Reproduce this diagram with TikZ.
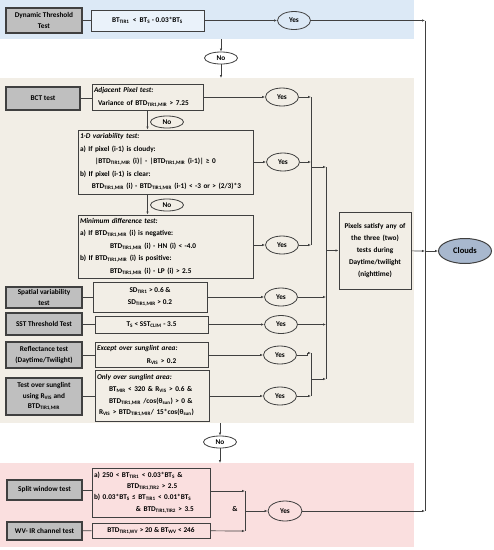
\documentclass[tikz,border=0pt]{standalone}
\usepackage{fontspec}
\setmainfont{Carlito}
\usetikzlibrary{positioning, arrows.meta, shapes.geometric}
\definecolor{bandblue}{RGB}{220,233,246}
\definecolor{bandbeige}{RGB}{242,238,230}
\definecolor{bandpink}{RGB}{250,223,223}
\definecolor{testgray}{RGB}{191,191,191}
\definecolor{linegray}{RGB}{64,64,64}
\definecolor{cloudblue}{RGB}{168,184,206}
\newcommand{\tsub}[1]{\textsubscript{#1}}
\newcommand{\btdmir}{BTD\tsub{TIR1,MIR}}

\begin{document}
\begin{tikzpicture}[
    x=1pt, y=-1pt,
    font=\fontsize{7.3}{10.5}\selectfont\bfseries,
    test/.style={
        draw=linegray,
        line width=1.3pt,
        fill=testgray,
        align=center,
        inner sep=1pt,
        minimum width=76pt,
    },
    cond/.style={draw=linegray, line width=1pt, inner sep=2pt, align=center},
    condl/.style={cond, align=left, font=\fontsize{7.3}{12.6}\selectfont\bfseries},
    yes/.style={ellipse, draw=linegray, line width=0.8pt, inner sep=0pt,
        minimum width=33pt, minimum height=18pt},
    no/.style={yes, minimum width=33pt, minimum height=12pt, fill=white},
    flow/.style={-{Latex[length=3pt,width=2.4pt]}, draw=linegray, line width=0.7pt},
    link/.style={draw=linegray, line width=0.7pt}
]
\useasboundingbox (0,0) rectangle (494,550);
\fill[bandblue] (0,0) rectangle (414,39);
\fill[bandbeige] (0,78) rectangle (414,423);
\fill[bandpink] (0,463) rectangle (414,547);

\node[test, minimum height=25pt] (Dyn) at (44,20.5) {Dynamic Threshold\\Test};
\node[cond, fill=bandblue!60!white, minimum width=113pt, minimum height=21pt] (BT) at (147.5,20.5) {%
  BT\tsub{TIR1}~~<~~BT\tsub{S} - 0.03*BT\tsub{S}};
\node[yes] (Y0) at (294,20.5) {Yes};
\node[no] (N1) at (221,58) {No};

\node[test, minimum width=74pt, minimum height=23pt] (BCT) at (43,98.5) {BCT test};
\node[condl, text width=107pt, minimum height=26pt] (Adj) at (147.5,97) {%
  \textit{Adjacent Pixel test:}\\
  \hspace*{4pt}Variance of \btdmir{} > 7.25};
\node[yes] (Y1) at (282,97) {Yes};
\node[no, fill=bandbeige] (N2) at (167,122) {No};
\node[condl, text width=171pt, minimum height=64pt] (OneD) at (165.5,162) {%
  \textit{1-D variability test:}\\
  a) If pixel (i-1) is cloudy:\\
  \hspace*{15pt}|\btdmir{} (i)| - |\btdmir{} (i-1)| ≥ 0\\
  b) If pixel (i-1) is clear:\\
  \hspace*{12pt}\btdmir{} (i) - \btdmir{} (i-1) < -3 or > (2/3)*3};
\node[yes] (Y2) at (283,162) {Yes};
\node[no, fill=bandbeige] (N3) at (167,205) {No};
\node[condl, text width=171pt, minimum height=63pt] (MinD) at (165.5,246.5) {%
  \textit{Minimum difference test:}\\
  a) If \btdmir{} (i) is negative:\\
  \hspace*{30pt}\btdmir{} (i) - HN (i) < -4.0\\
  b) If \btdmir{} (i) is positive:\\
  \hspace*{30pt}\btdmir{} (i) - LP (i) > 2.5};
\node[yes] (Y3) at (282,245) {Yes};

\node[test, minimum height=21pt] (Spat) at (44,297.5) {Spatial variability\\test};
\node[cond, minimum width=114pt, minimum height=30pt, font=\fontsize{7.3}{12}\selectfont\bfseries] (SpC) at (150,297) {%
  SD\tsub{TIR1} > 0.6 \&\\SD\tsub{TIR1,MIR} > 0.2};
\node[yes] (Y4) at (281,297) {Yes};
\node[test, minimum height=22pt] (SST) at (44,324) {SST Threshold Test};
\node[cond, minimum width=113pt, minimum height=17pt] (SSTC) at (151.5,324.5) {%
  T\tsub{S} < SST\tsub{CLIM} - 3.5};
\node[yes] (Y5) at (281,324.5) {Yes};
\node[test, minimum height=26pt] (Refl) at (44,355) {Reflectance test\\(Daytime/Twilight)};
\node[condl, text width=109pt, minimum height=25pt] (ReflC) at (151.5,355) {%
  \textit{Except over sunglint area:}\\
  \hspace*{50pt}R\tsub{VIS} > 0.2};
\node[yes] (Y6) at (280,355) {Yes};
\node[test, minimum height=37pt] (Sun) at (44,396.5) {Test over sunglint\\using R\tsub{VIS} and\\\btdmir};
\node[condl, text width=110pt, minimum height=51pt, font=\fontsize{7.3}{11.6}\selectfont\bfseries] (SunC) at (152,395.5) {%
  \textit{Only over sunglint area:}\\
  \hspace*{12pt}BT\tsub{MIR} < 320 \& R\tsub{VIS} > 0.6 \&\\
  \hspace*{12pt}\btdmir{} /cos(θ\tsub{sun}) > 0 \&\\
  \hspace*{2pt}R\tsub{VIS} > \btdmir/ 15*cos(θ\tsub{sun})};
\node[yes] (Y7) at (280,396) {Yes};
\node[no] (N4) at (220,442) {No};

\node[test, minimum width=75pt, minimum height=20pt] (Split) at (44.5,490) {Split window test};
\node[condl, text width=114pt, minimum height=49pt, font=\fontsize{7.3}{11.2}\selectfont\bfseries] (SplC) at (151,492.5) {%
  a) 250 < BT\tsub{TIR1} < 0.03*BT\tsub{S} \&\\
  \hspace*{33pt}BTD\tsub{TIR1,TIR2} > 2.5\\
  b) 0.03*BT\tsub{S} ≤ BT\tsub{TIR1} < 0.01*BT\tsub{S}\\
  \hspace*{42pt}\& BTD\tsub{TIR1,TIR2} > 3.5};
\node[test, minimum width=75pt, minimum height=18pt] (WV) at (44.5,531) {WV- IR channel test};
\node[cond, minimum width=118pt, minimum height=15pt] (WVC) at (151,530.5) {%
  BTD\tsub{TIR1,WV} > 20 \& BT\tsub{WV} < 246};
\node (And) at (235,509) {\&};
\node[yes, minimum width=34pt, minimum height=20pt] (Y8) at (285,511) {Yes};

\node[cond, fill=bandbeige, text width=68pt, minimum height=77pt, font=\fontsize{7.3}{12}\selectfont\bfseries] (Pix) at (375,250.5) {%
  Pixels satisfy any of\\the three (two)\\tests during\\Daytime/twilight\\(nighttime)};
\node[ellipse, draw=linegray, line width=1pt, fill=cloudblue, minimum width=53pt,
    minimum height=25pt, font=\fontsize{8.5}{10}\selectfont\bfseries] (Clouds) at (465,251) {Clouds};

\coordinate (B1) at (221,39);
\coordinate (B2) at (221,78);
\coordinate (B3) at (220,423);
\coordinate (B4) at (220,463);
\coordinate (R0) at (425,20.5);
\coordinate (R1) at (425,251);
\coordinate (R2) at (425,511);
\coordinate (J1) at (311,97);
\coordinate (J2) at (311,245);
\coordinate (J3) at (311,167);
\coordinate (J4) at (311,353);
\coordinate (J5) at (311,396);
\coordinate (J6) at (311,379);
\coordinate (K1) at (326,167);
\coordinate (K2) at (326,379);
\coordinate (S1) at (245,491);
\coordinate (S2) at (245,531);
\coordinate (S3) at (245,511);

\draw[link] (Dyn) -- (BT);
\draw[flow] (BT) -- (Y0);
\draw[flow] (Y0) -- (R0);
\draw[link] (R0) -- (R2);
\draw[flow] (B1) -- (N1);
\draw[flow] (N1) -- (B2);

\draw[link] (BCT.east) -- (BCT.east -| Adj.west);
\draw[flow] (Adj) -- (Y1);
\draw[flow] (Y1) -- (J1);
\draw[flow] (Adj.south) -- (Adj.south |- OneD.north);
\draw[flow] (OneD) -- (Y2);
\draw[flow] (Y2) -- (Y2 -| J1);
\draw[flow] (OneD.south -| Adj.south) -- (MinD.north -| Adj.south);
\draw[flow] (MinD.east |- Y3) -- (Y3);
\draw[flow] (Y3) -- (J2);
\draw[link] (J1) -- (J2);
\draw[flow] (J3) -- (K1);
\draw[link] (K1) -- (K2);
\draw[flow] (K1 |- Pix) -- (Pix);
\draw[flow] (Pix) -- (R1);
\draw[flow] (R1) -- (Clouds);

\draw[link] (Spat.east) -- (Spat.east -| SpC.west);
\draw[flow] (SpC) -- (Y4);
\draw[flow] (Y4) -- (Y4 -| K1);
\draw[link] (SST.east) -- (SST.east -| SSTC.west);
\draw[flow] (SSTC) -- (Y5);
\draw[flow] (Y5) -- (Y5 -| K1);
\draw[link] (Refl) -- (ReflC);
\draw[flow] (ReflC) -- (Y6);
\draw[flow] (Y6.east) -- ++(10,0) |- (J4);
\draw[link] (Sun.east) -- (Sun.east -| SunC.west);
\draw[flow] (SunC.east |- Y7) -- (Y7);
\draw[flow] (Y7) -- (J5);
\draw[link] (J4) -- (J5);
\draw[flow] (J6) -- (K2);

\draw[flow] (B3) -- (N4);
\draw[flow] (N4) -- (B4);
\draw[link] (Split.east) -- (Split.east -| SplC.west);
\draw[link] (WV) -- (WVC);
\draw[flow] (SplC.east |- S1) -- (S1);
\draw[flow] (WVC) -- (S2);
\draw[link] (S1) -- (S2);
\draw[flow] (S3) -- (Y8);
\draw[flow] (Y8) -- (R2);
\end{tikzpicture}
\end{document}
